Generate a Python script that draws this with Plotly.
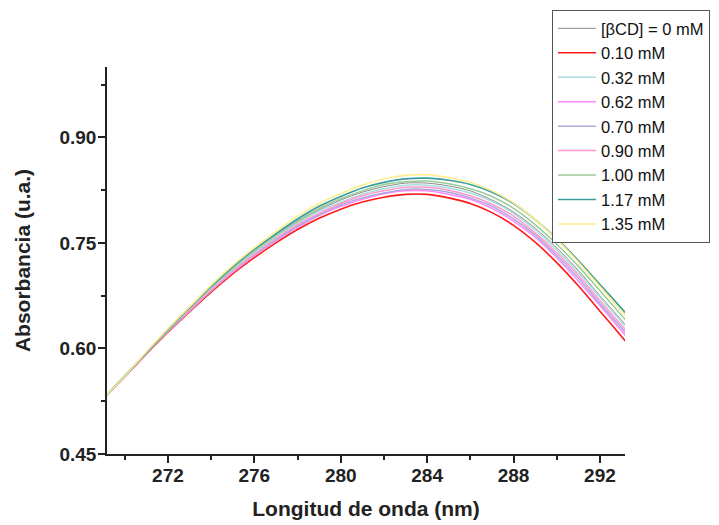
import plotly.graph_objects as go

wavelength = [269, 270, 271, 272, 273, 274, 275, 276, 277, 278, 279, 280, 281,
              282, 283, 284, 285, 286, 287, 288, 289, 290, 291, 292, 293, 294]

abs_0_00 = [0.528, 0.561, 0.594, 0.626, 0.656, 0.685, 0.713, 0.737, 0.759, 0.780, 0.797, 0.811, 0.822,
            0.830, 0.835, 0.835, 0.831, 0.824, 0.811, 0.794, 0.771, 0.743, 0.711, 0.675, 0.640, 0.604]
abs_0_10 = [0.528, 0.560, 0.592, 0.623, 0.652, 0.680, 0.706, 0.729, 0.750, 0.769, 0.785, 0.798, 0.808,
            0.815, 0.819, 0.819, 0.814, 0.806, 0.793, 0.775, 0.751, 0.722, 0.689, 0.653, 0.617, 0.580]
abs_0_32 = [0.528, 0.561, 0.593, 0.625, 0.655, 0.684, 0.712, 0.736, 0.758, 0.778, 0.795, 0.808, 0.819,
            0.827, 0.832, 0.832, 0.828, 0.821, 0.809, 0.792, 0.768, 0.740, 0.708, 0.673, 0.638, 0.602]
abs_0_62 = [0.528, 0.560, 0.593, 0.624, 0.653, 0.682, 0.708, 0.732, 0.753, 0.772, 0.789, 0.802, 0.812,
            0.820, 0.824, 0.824, 0.819, 0.812, 0.799, 0.781, 0.758, 0.729, 0.696, 0.661, 0.625, 0.588]
abs_0_70 = [0.528, 0.560, 0.593, 0.624, 0.654, 0.682, 0.709, 0.733, 0.754, 0.774, 0.790, 0.804, 0.814,
            0.821, 0.826, 0.826, 0.822, 0.814, 0.802, 0.784, 0.761, 0.732, 0.700, 0.664, 0.629, 0.593]
abs_0_90 = [0.528, 0.561, 0.593, 0.625, 0.655, 0.683, 0.710, 0.734, 0.756, 0.776, 0.792, 0.806, 0.817,
            0.824, 0.829, 0.829, 0.825, 0.817, 0.805, 0.788, 0.764, 0.736, 0.704, 0.668, 0.633, 0.597]
abs_1_00 = [0.528, 0.561, 0.594, 0.626, 0.657, 0.687, 0.714, 0.739, 0.761, 0.782, 0.799, 0.813, 0.824,
            0.833, 0.837, 0.838, 0.834, 0.827, 0.816, 0.799, 0.776, 0.748, 0.717, 0.682, 0.647, 0.611]
abs_1_17 = [0.528, 0.561, 0.594, 0.627, 0.658, 0.688, 0.716, 0.741, 0.763, 0.784, 0.802, 0.816, 0.828,
            0.836, 0.841, 0.842, 0.839, 0.833, 0.822, 0.806, 0.783, 0.756, 0.725, 0.691, 0.657, 0.622]
abs_1_35 = [0.528, 0.561, 0.595, 0.628, 0.659, 0.690, 0.718, 0.743, 0.766, 0.788, 0.806, 0.820, 0.832,
            0.841, 0.846, 0.847, 0.843, 0.836, 0.824, 0.807, 0.783, 0.755, 0.723, 0.688, 0.653, 0.617]

series_names = ["[\u03b2CD] = 0 mM", "0.10 mM", "0.32 mM", "0.62 mM", "0.70 mM",
                "0.90 mM", "1.00 mM", "1.17 mM", "1.35 mM"]
series_values = [abs_0_00, abs_0_10, abs_0_32, abs_0_62, abs_0_70,
                 abs_0_90, abs_1_00, abs_1_17, abs_1_35]
series_colors = ["#8a8a8a", "#ff1a1a", "#a8dede", "#ff88ff", "#aaaadd",
                 "#ff99cc", "#99cc99", "#3a9e9e", "#ffee88"]
series_widths = [1.0, 1.6, 1.5, 1.5, 1.5, 1.5, 1.5, 1.6, 1.5]

x_tick_vals = [272, 276, 280, 284, 288, 292]
y_tick_vals = [0.45, 0.60, 0.75, 0.90]
y_tick_text = ["0.45", "0.60", "0.75", "0.90"]

fig = go.Figure()
for i, (name, vals, col, w) in enumerate(zip(series_names, series_values, series_colors, series_widths)):
    fig.add_trace(go.Scatter(
        x=wavelength, y=vals, mode="lines", name=name,
        line=dict(color=col, width=w, shape="spline", smoothing=0.8),
        legendgroup=f"g{i}",
    ))

font_family = "Liberation Sans, Arial, sans-serif"

fig.update_layout(
    width=711, height=517,
    margin=dict(l=99, r=94, t=59, b=71, autoexpand=False),
    paper_bgcolor="white", plot_bgcolor="white",
    font=dict(family=font_family, color="#222222"),
    showlegend=True,
    legend=dict(
        x=0.859, y=1.147, xanchor="left", yanchor="top",
        bgcolor="white", bordercolor="#555555", borderwidth=1,
        font=dict(family=font_family, size=16.5, color="#111111"),
        tracegroupgap=0, itemwidth=38,
        traceorder="normal",
    ),
    xaxis=dict(
        range=[269.18, 293.16],
        tickmode="array", tickvals=x_tick_vals,
        ticks="outside", ticklen=7, tickwidth=1.5, tickcolor="#222222",
        ticklabelstandoff=-4,
        showline=True, linecolor="#222222", linewidth=1.5,
        showgrid=False, zeroline=False, mirror=False,
        tickfont=dict(family=font_family, size=19, weight="bold", color="#222222"),
        minor=dict(tickmode="array", tickvals=[270, 274, 278, 282, 286, 290],
                   ticks="outside", ticklen=4, tickwidth=1.5, tickcolor="#222222"),
        title=dict(text="Longitud de onda (nm)", standoff=17,
                   font=dict(family=font_family, size=21, weight="bold", color="#222222")),
    ),
    yaxis=dict(
        range=[0.45, 1.0],
        tickmode="array", tickvals=y_tick_vals, ticktext=y_tick_text,
        ticks="outside", ticklen=7, tickwidth=1.5, tickcolor="#222222",
        ticklabelstandoff=-2,
        showline=True, linecolor="#222222", linewidth=1.5,
        showgrid=False, zeroline=False, mirror=False,
        tickfont=dict(family=font_family, size=19, weight="bold", color="#222222"),
        minor=dict(tickmode="array", tickvals=[0.525, 0.675, 0.825, 0.975],
                   ticks="outside", ticklen=4, tickwidth=1.5, tickcolor="#222222"),
        title=dict(text="Absorbancia (u.a.)", standoff=23,
                   font=dict(family=font_family, size=21, weight="bold", color="#222222")),
    ),
)

fig.write_html("out.html")
